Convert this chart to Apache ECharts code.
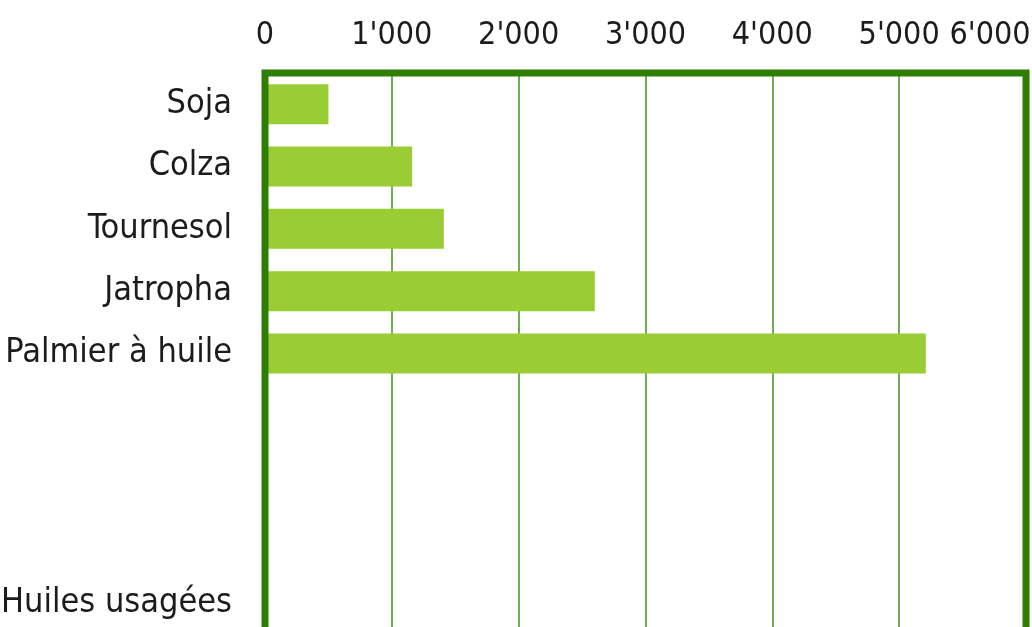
<!DOCTYPE html>
<html>
<head>
<meta charset="utf-8">
<script src="https://cdn.jsdelivr.net/npm/echarts@6/dist/echarts.min.js"></script>
<style>
html,body{margin:0;padding:0;background:#fff;}
#chart{width:1032px;height:627px;}
</style>
</head>
<body>
<div id="chart"></div>
<script>
const categories = ['Soja', 'Colza', 'Tournesol', 'Jatropha', 'Palmier à huile', ' ', '  ', '   ', 'Huiles usagées'];
const values = [500, 1160, 1410, 2600, 5210, null, null, null, null];
const xTicks = [0, 1000, 2000, 3000, 4000, 5000, 6000];

const FONT = '"Liberation Sans Narrow", "Arial Narrow", "DejaVu Sans Condensed", sans-serif';
const X_MAX = xTicks[xTicks.length - 1];

function fmt(v) {
  const s = String(Math.round(v));
  return s.replace(/\B(?=(\d{3})+(?!\d))/g, "'");
}

const chart = echarts.init(document.getElementById('chart'), null, {renderer: 'canvas'});
chart.setOption({
  animation: false,
  backgroundColor: '#ffffff',
  grid: {
    show: true,
    z: 10,
    left: 265,
    right: 6,
    top: 73,
    height: 561,
    outerBoundsMode: 'none',
    containLabel: false,
    backgroundColor: 'transparent',
    borderColor: '#2f7d02',
    borderWidth: 7
  },
  xAxis: {
    type: 'value',
    position: 'top',
    min: xTicks[0],
    max: X_MAX,
    interval: 1000,
    axisLine: {show: false},
    axisTick: {show: false},
    splitLine: {show: true, lineStyle: {color: '#43921a', width: 1.5}},
    axisLabel: {
      margin: 21,
      color: '#1c1c1c',
      fontFamily: FONT,
      fontSize: 32,
      showMaxLabel: true,
      showMinLabel: true,
      hideOverlap: false,
      formatter: function (v) {
        return v === X_MAX ? '{last|' + fmt(v) + '}' : fmt(v);
      },
      rich: {
        last: {
          color: '#1c1c1c',
          fontFamily: FONT,
          fontSize: 32,
          padding: [0, 72, 0, 0]
        }
      }
    }
  },
  yAxis: {
    type: 'category',
    inverse: true,
    data: categories,
    axisLine: {show: false},
    axisTick: {show: false},
    splitLine: {show: false},
    axisLabel: {
      margin: 33,
      color: '#1c1c1c',
      fontFamily: FONT,
      fontSize: 34
    }
  },
  series: [{
    type: 'bar',
    data: values,
    barWidth: 40,
    itemStyle: {color: '#9acc34'},
    z: 2
  }]
});
</script>
</body>
</html>
